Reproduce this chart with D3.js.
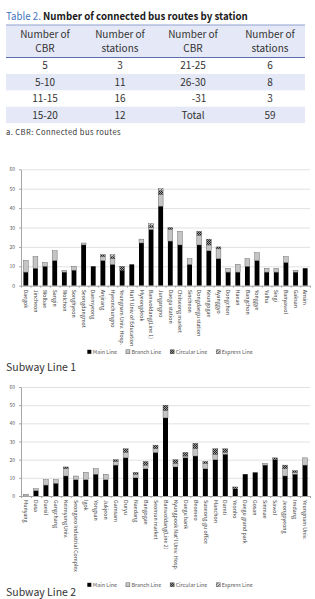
<!DOCTYPE html>
<html><head><meta charset="utf-8">
<script src="https://cdn.jsdelivr.net/npm/d3@7/dist/d3.min.js"></script>
<style>body{margin:0;background:#fff}svg{display:block}</style>
</head><body><svg id="c" width="315" height="599"></svg>
<script>
// ---------- data ----------
const tableHeader = [["Number of","CBR"],["Number of","stations"],["Number of","CBR"],["Number of","stations"]];
const tableCBR1 = ["5","5-10","11-15","15-20"];
const tableStations1 = ["3","11","16","12"];
const tableCBR2 = ["21-25","26-30","-31","Total"];
const tableStations2 = ["6","8","3","59"];

const seriesNames = ["Main Line","Branch Line","Circular Line","Express Line"];
const yTicks = [0,10,20,30,40,50,60];

const line1Stations = ["Daegok","Jincheon","Wolbae","Sangin","Wolchon","Songhyeon","Seongdangmot","Daemyeong","Anjirang","Hyeonchungno","Yeungnam Univ. Hosp.","Nat'l Univ of Education","Myeongdeok","Banwoldang(Line 1)","Jungangno","Daegu station","Chilseong market","Sincheon","Dongdaegu station","Keungogae","Ayanggyo","Dongchon","Haean","Bangchon","Yonggye","Yulha","Singi","Banyawol","Gaksan","Ansim"];
const line1Main     = [7,9,10,13,7,8,21,10,13,11,8,11,22,29,41,23,21,11,21,18,14,7,7,10,13,7,7,12,7,9];
const line1Branch   = [6,6,2,5,1,2,1,0,2,3,0,0,2,1,6,6,7,3,5,3,5,2,4,4,4,2,2,3,1,0];
const line1Circular = [0,0,0,0,0,0,0,0,1,1,2,0,0,1,2,1,0,0,2,3,1,0,0,0,0,0,0,0,0,0];
const line1Express  = [0,0,0,0,0,0,0,0,0,1,0,0,0,1,1,0,0,0,0,0,0,0,0,0,0,0,0,0,0,0];

const line2Stations = ["Munyang","Dasa","Daesil","Gangchang","Keimyung Univ.","Seongseo Industrial Complex","Igok","Yongsan","Jukjeon","Gamsam","Duryu","Naedang","Bangogae","Seomun market","Banwoldang(Line 2)","Kyungpook Nat'l Univ. Hosp.","Daegu bank","Beomeo","Suseong-gu office","Manchon","Damti","Yeonho","Daegu grand park","Gosan","Sinmae","Sawol","Jeongpyeong","Imdang","Yeungnam Univ."];
const line2Main     = [0,3,6,7,11,9,9,12,9,17,21,10,15,24,43,16,21,22,15,20,23,4,12,13,17,20,11,12,17];
const line2Branch   = [1,1,3,2,4,2,4,3,3,2,3,2,2,2,4,2,1,4,3,3,1,0,0,0,1,0,4,1,4];
const line2Circular = [0,0,0,0,1,0,0,0,0,1,2,1,2,2,3,2,2,3,1,3,2,1,0,0,0,1,2,1,0];
const line2Express  = [0,0,0,0,0,0,0,0,0,0,0,0,0,0,0,0,0,0,0,0,0,0,0,0,0,0,0,0,0];

// ---------- drawing ----------
const svg = d3.select("#c");
const FONT = "'Noto Sans CJK KR','Noto Sans',sans-serif";
const defs = svg.append("defs");
const pc = defs.append("pattern").attr("id","pCirc").attr("width",2).attr("height",2).attr("patternUnits","userSpaceOnUse");
pc.append("rect").attr("width",2).attr("height",2).attr("fill","#9a9a9a");
pc.append("rect").attr("width",1).attr("height",1).attr("fill","#222");
pc.append("rect").attr("x",1).attr("y",1).attr("width",1).attr("height",1).attr("fill","#222");
const pe = defs.append("pattern").attr("id","pExp").attr("width",3).attr("height",3).attr("patternUnits","userSpaceOnUse");
pe.append("rect").attr("width",3).attr("height",3).attr("fill","#d0d0d0");
pe.append("path").attr("d","M0,3L3,0").attr("stroke","#444").attr("stroke-width",0.8);
const fills = ["#000","#c4c4c4","url(#pCirc)","url(#pExp)"];

// Title
const title = svg.append("text").attr("transform","translate(6,20) scale(0.9,1)").attr("font-family",FONT).attr("font-size",10.8);
title.append("tspan").attr("fill","#3f74bf").text("Table 2. ");
title.append("tspan").attr("fill","#1a1a1a").attr("font-weight","bold").text("Number of connected bus routes by station");

// Table
const tX0 = 6, tX1 = 305, colX = [45,120,193,270];
const headTop = 25, headBot = 57.5, rowH = 16.4;
svg.append("rect").attr("x",tX0).attr("y",headTop).attr("width",tX1-tX0).attr("height",headBot-headTop).attr("fill","#e5e8f6");
const rows = tableCBR1.map((d,i)=>[d,tableStations1[i],tableCBR2[i],tableStations2[i]]);
rows.forEach((r,i)=>{
  const y = headBot + i*rowH;
  if (i%2===1) svg.append("rect").attr("x",tX0).attr("y",y).attr("width",tX1-tX0).attr("height",rowH).attr("fill","#e5e8f6");
  r.forEach((v,j)=>{
    svg.append("text").attr("x",colX[j] + (v==="-31"?6:0)).attr("y",y+rowH/2+3.6).attr("text-anchor","middle")
      .attr("font-family",FONT).attr("font-size",10).attr("fill","#333").text(v);
  });
});
svg.append("line").attr("x1",tX0).attr("x2",tX1).attr("y1",headTop).attr("y2",headTop).attr("stroke","#8f9fcf").attr("stroke-width",1);
svg.append("line").attr("x1",tX0).attr("x2",tX1).attr("y1",headBot).attr("y2",headBot).attr("stroke","#5b6fae").attr("stroke-width",1);
tableHeader.forEach((h,j)=>{
  h.forEach((s,k)=>{
    svg.append("text").attr("x",colX[j]).attr("y",headTop+12.5+k*14.5).attr("text-anchor","middle")
      .attr("font-family",FONT).attr("font-size",10).attr("fill","#333").text(s);
  });
});
svg.append("text").attr("x",6).attr("y",135).attr("font-family",FONT).attr("font-size",7.6).attr("letter-spacing",0.4).attr("fill","#333").text("a. CBR: Connected bus routes");

function drawChart(cfg){
  const {stations, series, y0, y60, legendY, captionY, caption} = cfg;
  const g = svg.append("g");
  const x = d3.scaleBand().domain(stations).range([21,310]).paddingInner(0.5).paddingOuter(0.25);
  const y = d3.scaleLinear().domain([0,60]).range([y0,y60]);
  const data = stations.map((s,i)=>({station:s, m:series[0][i], b:series[1][i], c:series[2][i], e:series[3][i]}));
  const stack = d3.stack().keys(["m","b","c","e"])(data);
  // gridlines
  g.append("g").call(d3.axisRight(y).tickValues(yTicks.slice(1)).tickSize(289).tickFormat(""))
    .attr("transform","translate(21,0)")
    .call(a=>{a.select(".domain").remove(); a.selectAll("line").attr("stroke","#d9d9d9").attr("stroke-width",0.8);});
  // y axis
  g.append("g").attr("transform","translate(21,0)")
    .call(d3.axisLeft(y).tickValues(yTicks).tickSize(2).tickPadding(4).tickSizeOuter(0))
    .call(a=>{a.select(".domain").attr("stroke","#a6a6a6"); a.selectAll("line").attr("stroke","#a6a6a6");
      a.selectAll("text").attr("font-family",FONT).attr("font-size",5).attr("fill","#595959");});
  // bars
  g.selectAll("g.s").data(stack).join("g").attr("class","s").attr("fill",(d,i)=>fills[i])
    .selectAll("rect").data(d=>d.filter(p=>p[1]>p[0])).join("rect")
    .attr("x",d=>x(d.data.station)).attr("width",x.bandwidth())
    .attr("y",d=>y(d[1])).attr("height",d=>y(d[0])-y(d[1]))
    .attr("stroke",function(){return this.parentNode.getAttribute("fill")==="#000"?null:"#555";})
    .attr("stroke-width",0.4);
  // x axis
  const xb = d3.scaleLinear().domain([0,stations.length]).range([21,310]);
  g.append("g").attr("transform",`translate(0,${y0})`)
    .call(d3.axisBottom(xb).tickValues(d3.range(stations.length+1)).tickSize(2).tickFormat("").tickSizeOuter(0))
    .call(a=>{a.select(".domain").attr("stroke","#a6a6a6"); a.selectAll("line").attr("stroke","#a6a6a6");});
  g.append("g").selectAll("text").data(stations).join("text")
    .attr("transform",d=>`translate(${x(d)+x.bandwidth()/2-1.8},${y0+4}) rotate(90)`)
    .attr("font-family",FONT).attr("font-size",5.3).attr("fill","#404040").text(d=>d);
  // legend (laid out from measured text widths, centred)
  const lg = g.append("g").attr("transform",`translate(0,${legendY})`);
  const items = lg.selectAll("g").data(seriesNames).join("g");
  items.append("rect").attr("x",0).attr("y",-2.2).attr("width",4).attr("height",4).attr("fill",(d,i)=>fills[i]).attr("stroke",(d,i)=>i?"#444":null).attr("stroke-width",0.4);
  items.append("text").attr("x",5.5).attr("y",1.8).attr("font-family",FONT).attr("font-size",5.4).attr("fill","#595959").text(d=>d);
  let cx = 0; const pos = [];
  items.each(function(){ pos.push(cx); cx += 5.5 + this.querySelector("text").getComputedTextLength() + 9; });
  const total = cx - 9, start = 170 - total/2;
  items.attr("transform",(d,i)=>`translate(${start+pos[i]},0)`);
  // caption
  svg.append("text").attr("x",6).attr("y",captionY).attr("font-family",FONT).attr("font-size",10.5).attr("fill","#333").text(caption);
}

drawChart({stations:line1Stations, series:[line1Main,line1Branch,line1Circular,line1Express], y0:285.7, y60:169.3, legendY:352, captionY:371, caption:"Subway Line 1"});
drawChart({stations:line2Stations, series:[line2Main,line2Branch,line2Circular,line2Express], y0:496, y60:387, legendY:585, captionY:596, caption:"Subway Line 2"});
</script></body></html>
